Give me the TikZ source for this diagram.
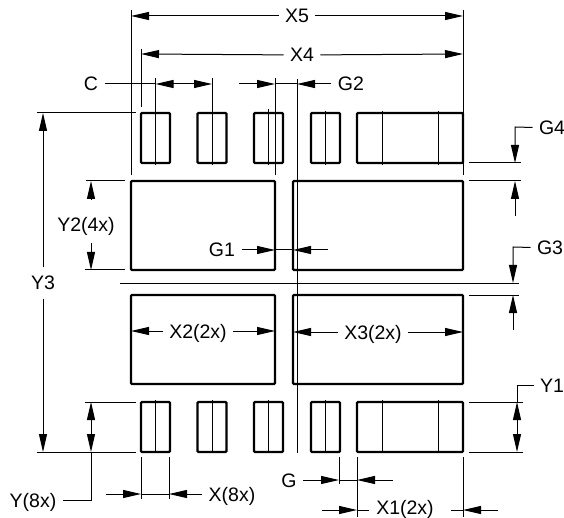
\documentclass[tikz,border=0pt]{standalone}
\usepackage{fontspec}
\setmainfont{Liberation Sans}
\usetikzlibrary{arrows.meta}

\begin{document}
\begin{tikzpicture}[x=1pt,y=-1pt,>={Stealth[inset=0pt,length=18pt,width=8pt]},line width=1pt,
    land/.style={rectangle,draw,line width=2.3pt,rounded corners=1pt,inner sep=0pt},
    small land/.style={land,minimum width=29pt,minimum height=50pt},
    big land/.style={land,minimum height=89pt},
    tag/.style={font=\fontsize{19.5}{21}\selectfont,inner xsep=6pt,inner ysep=8pt,text height=14pt,text depth=0pt}]

    \useasboundingbox (0,0) rectangle (564,518);

    % lands
    \foreach \n/\x in {1/155.5,2/212,3/268.5,4/325.5}{
        \node[small land] (t\n) at (\x,138) {};
        \node[small land] (b\n) at (\x,427) {};
    }
    \node[land,minimum width=106pt,minimum height=50pt] (t5) at (410,138) {};
    \node[land,minimum width=106pt,minimum height=50pt] (b5) at (410,427) {};
    \node[big land,minimum width=144pt] (lt) at (203,225.5) {};
    \node[big land,minimum width=170pt] (rt) at (378,225.5) {};
    \node[big land,minimum width=144pt] (lb) at (203,339.5) {};
    \node[big land,minimum width=170pt] (rb) at (378,339.5) {};

    % labels
    \node[tag] (X5) at (297,16) {X5};
    \node[tag] (X4) at (302,55) {X4};
    \node[tag] (C) at (91,84) {C};
    \node[tag] (G2) at (351,84) {G2};
    \node[tag] (G4) at (552,128) {G4};
    \node[tag] (G3) at (550,248) {G3};
    \node[tag] (Y1) at (552,385) {Y1};
    \node[tag] (Y3) at (43,283) {Y3};
    \node[tag] (Y2) at (86,225) {Y2(4x)};
    \node[tag] (G1) at (222,250) {G1};
    \node[tag] (X2) at (198,331) {X2(2x)};
    \node[tag] (X3) at (373,332) {X3(2x)};
    \node[tag] (Y) at (33,500) {Y(8x)};
    \node[tag] (X) at (232,494) {X(8x)};
    \node[tag] (G) at (289,480) {G};
    \node[tag] (X1) at (405,507.5) {X1(2x)};

    % named ends of the dimension lines
    \foreach \name/\x/\y in {
        x5l/131/16, x5r/463/16, x4l/141/54, x4r/463/54,
        ca/155.5/84, cb/212/84, cc/239/84, cd/275/84, ce/297/84,
        g1a/275/250, g1b/293/250, g1c/328/250, x2l/131/331, x2r/275/331, x3l/293/332, x3r/463/332,
        x8a/106/494, x8b/141/494, x8c/169/494,
        ga/339/480, gb/357/480, gc/393/480,
        x1a/322/510, x1b/357/510, x1c/463/510, x1d/498/510, x1e/369/510, x1f/451/510,
        g4a/515/127, g4b/515/163, g4c/515/181, g4d/515/216,
        g3a/513/247, g3b/513/283, g3c/513/295, g3d/513/330,
        y1a/517/385, y1b/517/402, y1c/517/452,
        y3a/43/113, y3b/43/452,
        y2a/91/199, y2b/91/181, y2c/91/243, y2d/91/270,
        y8a/91/402, y8b/91/452, y8c/91/500}
        \coordinate (\name) at (\x,\y);

    % dimension lines
    \draw[->] (X5) -- (x5l);
    \draw[->] (X5) -- (x5r);
    \draw[->] (X4) -- (x4l);
    \draw[->] (X4) -- (x4r);
    \draw (C) -- (ca);
    \draw[<->] (ca) -- (cb);
    \draw[->] (cc) -- (cd);
    \draw (cd) -- (ce);
    \draw[->] (G2) -- (ce);
    \draw[->] (G1) -- (g1a);
    \draw (g1a) -- (g1b);
    \draw[->] (g1c) -- (g1b);
    \draw[->] (X2) -- (x2l);
    \draw[->] (X2) -- (x2r);
    \draw[->] (X3) -- (x3l);
    \draw[->] (X3) -- (x3r);
    \draw[->] (x8a) -- (x8b);
    \draw (x8b) -- (x8c);
    \draw[->] (X) -- (x8c);
    \draw[->] (G) -- (ga);
    \draw (ga) -- (gb);
    \draw[->] (gc) -- (gb);
    \draw[->] (x1a) -- (x1b);
    \draw (x1b) -- (x1e);
    \draw[->] (x1d) -- (x1c);
    \draw (x1c) -- (x1f);
    \draw[->] (G4) -- (g4a) -- (g4b);
    \draw[->] (g4d) -- (g4c);
    \draw[->] (G3) -- (g3a) -- (g3b);
    \draw[->] (g3d) -- (g3c);
    \draw (Y1) -- (y1a) -- (y1b);
    \draw[<->] (y1b) -- (y1c);
    \draw[->] (Y3) -- (y3a);
    \draw[->] (Y3) -- (y3b);
    \draw[->] (y2a) -- (y2b);
    \draw[->] (y2c) -- (y2d);
    \draw[<->] (y8a) -- (y8b);
    \draw (y8b) -- (y8c) -- (Y);

    % extension lines
    \foreach \a/\ax/\ay/\bx/\by in {
        e1/131/10/131/175, e2/463/10/463/175, e3/141/49/141/107,
        e4/155.5/78/155.5/165, e5/212/78/212/165, e6/275/78/275/175,
        e7/297/79/297/453, e8/268.5/109/268.5/165, e9/325.5/111/325.5/165,
        e10/382/111/382/165, e11/438/111/438/165,
        e12/155.5/400/155.5/453, e13/212/400/212/453, e14/268.5/400/268.5/453,
        e15/325.5/400/325.5/453, e16/382/400/382/453, e17/438/400/438/453,
        e18/141/457/141/499, e19/169/457/169/499, e20/339/457/339/484,
        e21/357/457/357/517, e22/463/457/463/517,
        e23/37/113/136/113, e24/37/452/136/452, e25/86/181/125/181,
        e26/85/270/125/270, e27/85/402/136/402,
        e28/469/163/521/163, e29/469/181/521/181, e30/469/295/519/295,
        e31/469/402/523/402, e32/469/452/523/452, e33/120/283/519/283}{
        \coordinate (\a s) at (\ax,\ay);
        \coordinate (\a t) at (\bx,\by);
        \draw (\a s) -- (\a t);
    }
\end{tikzpicture}
\end{document}
